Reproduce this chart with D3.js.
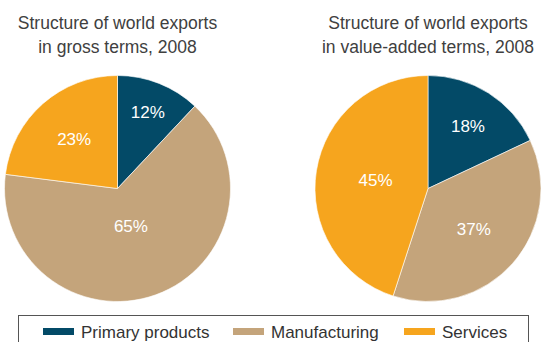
<!doctype html>
<html>
  <head>
    <meta charset="utf-8">
    <script src="https://d3js.org/d3.v7.min.js"></script>
    <style>
      body { margin: 0; background: #fff; }
      text { font-family: "Liberation Sans", Arial, sans-serif; }
    </style>
  </head>
  <body>
    <div id="graphic"></div>
    <script>

// Data
  var categories = ["Primary products", "Manufacturing", "Services"];
  var grossShares = [12, 65, 23];
  var valueAddedShares = [18, 37, 45];
  var titlesGross = ["Structure of world exports", "in gross terms, 2008"];
  var titlesValueAdded = ["Structure of world exports", "in value-added terms, 2008"];

// Layout (label distance from centre, as share of radius)
  var labelRadiusGross = [0.73, 0.35, 0.58];
  var labelRadiusValueAdded = [0.66, 0.54, 0.47];

  var width = 544, height = 342;
  var radius = 113;

  var color = d3.scaleOrdinal()
    .domain(categories)
    .range(["#034a67", "#c4a47b", "#f6a51e"]);

  var svg = d3.select("#graphic").append("svg")
    .attr("width", width)
    .attr("height", height);

  var pie = d3.pie().sort(null).value(d => d.value);
  var arc = d3.arc().innerRadius(0).outerRadius(radius);

  function drawPie(cx, cy, values, titles, labelRadius) {
    var data = categories.map((c, i) => ({category: c, value: values[i], lr: labelRadius[i]}));

    var g = svg.append("g")
      .attr("transform", "translate(" + cx + "," + cy + ")");

    var slices = pie(data);

    g.selectAll("path")
      .data(slices)
      .enter()
      .append("path")
      .attr("d", arc)
      .style("fill", d => color(d.data.category))
      .style("stroke", "#fff")
      .style("stroke-width", "0.6px");

    g.selectAll("text.lbl")
      .data(slices)
      .enter()
      .append("text")
      .attr("class", "lbl")
      .attr("transform", function(d) {
        var r = d.data.lr * radius;
        var labelArc = d3.arc().innerRadius(r).outerRadius(r);
        return "translate(" + labelArc.centroid(d) + ")";
      })
      .attr("text-anchor", "middle")
      .attr("dy", "0.36em")
      .style("fill", "#fff")
      .style("font-size", "17px")
      .text(d => d.data.value + "%");

    // title
    svg.append("text")
      .attr("x", cx)
      .attr("y", 29)
      .attr("text-anchor", "middle")
      .style("font-size", "17.5px")
      .style("fill", "#404040")
      .selectAll("tspan")
      .data(titles)
      .enter()
      .append("tspan")
      .attr("x", cx)
      .attr("dy", (d, i) => i === 0 ? 0 : 24)
      .text(d => d);
  }

  drawPie(117.5, 188.5, grossShares, titlesGross, labelRadiusGross);
  drawPie(428, 188.5, valueAddedShares, titlesValueAdded, labelRadiusValueAdded);

// Legend
  var legend = svg.append("g");

  legend.append("rect")
    .attr("x", 18.5)
    .attr("y", 315.5)
    .attr("width", 510)
    .attr("height", 40)
    .style("fill", "none")
    .style("stroke", "#555")
    .style("stroke-width", "1px");

  var legendX = [43, 233, 404];

  var items = legend.selectAll("g.item")
    .data(categories)
    .enter()
    .append("g")
    .attr("class", "item")
    .attr("transform", (d, i) => "translate(" + legendX[i] + ",0)");

  items.append("rect")
    .attr("x", 0)
    .attr("y", 328)
    .attr("width", 31)
    .attr("height", 7)
    .style("fill", d => color(d));

  items.append("text")
    .attr("x", 38)
    .attr("y", 338)
    .style("font-size", "17px")
    .style("fill", "#333")
    .text(d => d);

    </script>
  </body>
</html>
